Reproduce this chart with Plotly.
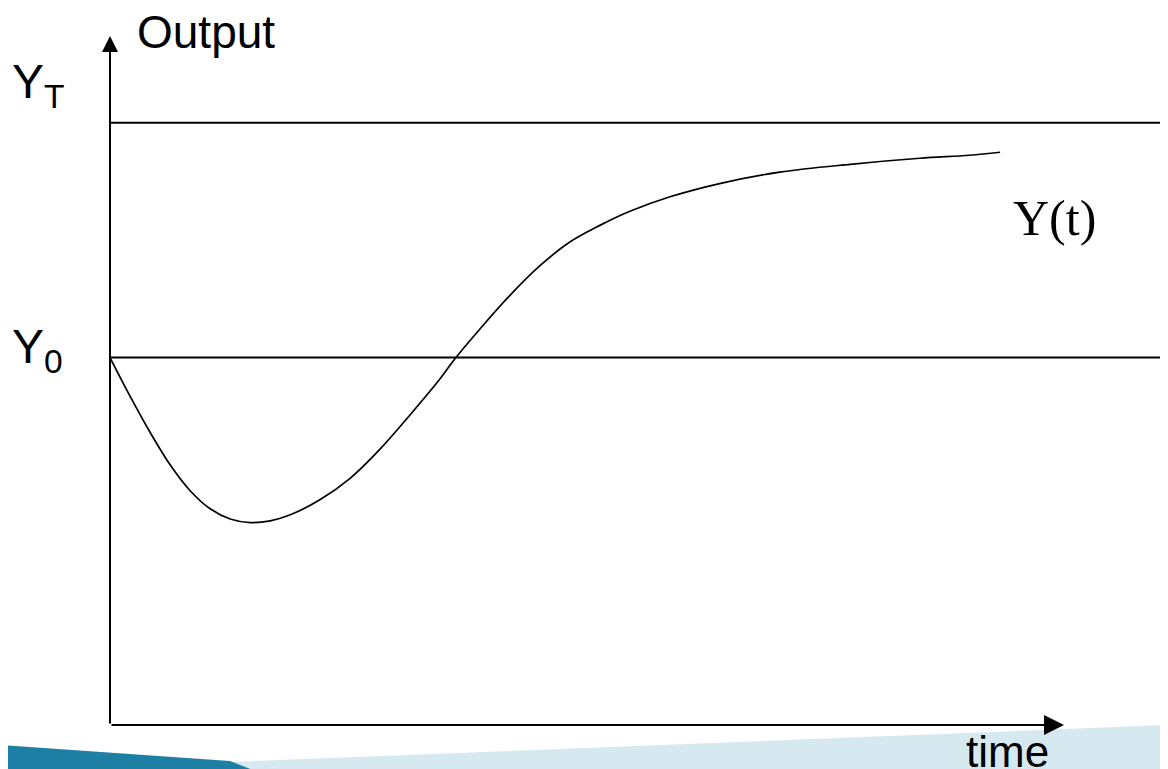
import plotly.graph_objects as go

# ---- data ----
time = [0, 0.21, 0.42, 0.63, 0.84, 1.05, 1.26, 1.47, 1.68, 1.89, 2.20, 2.52, 2.83,
        3.14, 3.46, 3.62, 3.88, 4.19, 4.51, 4.82, 5.14, 5.45, 5.87, 6.39, 7.02,
        7.76, 8.49, 9.01, 9.33]
output = [61.0, 54.6, 48.6, 43.2, 38.9, 35.9, 34.2, 33.6, 33.9, 34.9, 37.4, 41.0, 45.8,
          51.4, 57.5, 60.9, 65.8, 71.3, 76.3, 80.2, 83.0, 85.3, 87.7, 89.9, 91.8,
          93.1, 94.1, 94.6, 95.1]
Y0 = 61.0
YT = 100.0
x_arrow_end = 10.0
y_arrow_end = 114.4
x_range = [0, 11.09]
y_range = [0, 119.05]

# page body has an 8px margin; work in screen pixels and compensate
OFF = 8
W, H = 1168 - OFF, 769 - OFF
ML, MR, MT = 110 - OFF, 0, 0
MB = H - (725 - OFF)
PW, PH = W - ML - MR, H - MT - MB


def px(x):
    return (x - OFF - ML) / PW


def py(y):
    return (H - MB - (y - OFF)) / PH


fig = go.Figure()
fig.add_trace(go.Scatter(x=time, y=output, mode="lines",
                         line=dict(color="black", width=1.7, shape="spline", smoothing=1.0),
                         hoverinfo="skip", showlegend=False))

shapes = [
    dict(type="line", xref="paper", yref="y", x0=0, x1=1, y0=YT, y1=YT, line=dict(color="black", width=2)),
    dict(type="line", xref="paper", yref="y", x0=0, x1=1, y0=Y0, y1=Y0, line=dict(color="black", width=2)),
]

# decorative slide stripe at the bottom
light = "M {} {} L {} {} L {} {} L {} {} Z".format(px(0), py(771), px(1168), py(725), px(1168), py(772), px(0), py(772))
dark = "M {} {} L {} {} L {} {} L {} {} Z".format(px(0), py(745), px(230), py(761), px(258), py(772), px(0), py(772))
shapes.append(dict(type="path", xref="paper", yref="paper", path=light, fillcolor="#d6e9f1", line=dict(width=0), layer="below"))
shapes.append(dict(type="path", xref="paper", yref="paper", path=dark, fillcolor="#1e7fa5", line=dict(width=0), layer="below"))

annotations = [
    # axes with arrowheads
    dict(x=0, y=y_arrow_end, ax=0, ay=0, xref="x", yref="y", axref="x", ayref="y", text="",
         showarrow=True, arrowhead=2, arrowsize=1.6, arrowwidth=2, arrowcolor="black"),
    dict(x=x_arrow_end, y=0, ax=0, ay=0, xref="x", yref="y", axref="x", ayref="y", text="",
         showarrow=True, arrowhead=2, arrowsize=2.0, arrowwidth=2, arrowcolor="black"),
    dict(x=px(135), y=py(32), xref="paper", yref="paper", text="Output", showarrow=False,
         xanchor="left", yanchor="middle", font=dict(family="Liberation Sans, Arial", size=46, color="black")),
    dict(x=px(10), y=py(85), xref="paper", yref="paper", text="Y<sub>T</sub>", showarrow=False,
         xanchor="left", yanchor="middle", font=dict(family="Liberation Sans, Arial", size=48, color="black")),
    dict(x=px(10), y=py(350), xref="paper", yref="paper", text="Y<sub>0</sub>", showarrow=False,
         xanchor="left", yanchor="middle", font=dict(family="Liberation Sans, Arial", size=48, color="black")),
    dict(x=px(1054), y=py(218), xref="paper", yref="paper", text="Y(t)", showarrow=False,
         xanchor="center", yanchor="middle", font=dict(family="Liberation Serif, Times New Roman", size=50, color="black")),
    dict(x=px(1007), y=py(751), xref="paper", yref="paper", text="time", showarrow=False,
         xanchor="center", yanchor="middle", font=dict(family="Liberation Sans, Arial", size=44, color="black")),
]

fig.update_layout(
    width=W, height=H,
    margin=dict(l=ML, r=MR, t=MT, b=MB, pad=0),
    paper_bgcolor="white", plot_bgcolor="white",
    xaxis=dict(range=x_range, visible=False, fixedrange=True),
    yaxis=dict(range=y_range, visible=False, fixedrange=True),
    shapes=shapes, annotations=annotations, showlegend=False,
)

fig.write_html("out.html")
